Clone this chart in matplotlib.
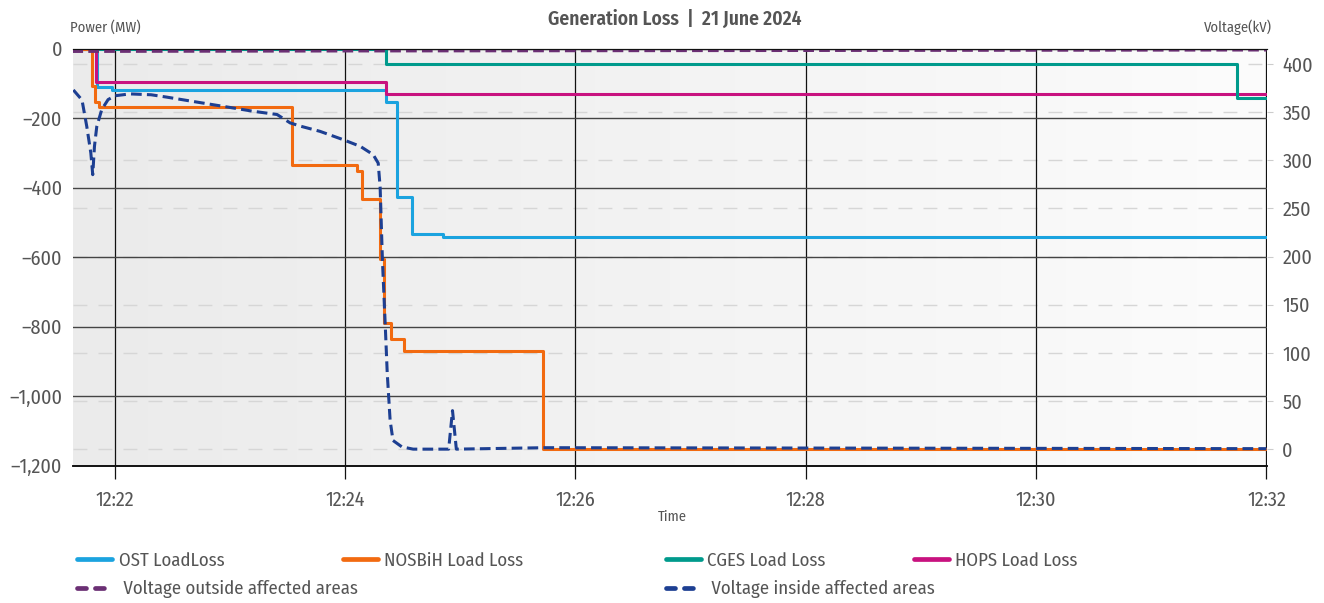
import matplotlib
matplotlib.use('Agg')
import numpy as np
import pandas as pd
import matplotlib.pyplot as plt
import matplotlib.dates as mdates
from matplotlib.lines import Line2D
from matplotlib.colors import LinearSegmentedColormap
from matplotlib.ticker import FuncFormatter
from matplotlib.transforms import blended_transform_factory

plt.rcParams['font.family'] = ['Fira Sans Condensed', 'Roboto Condensed', 'DejaVu Sans']

DAY = '2024-06-21 '
TXT = '#555555'

# Load loss per TSO (MW), step series
ost_t = ['12:21:38', '12:21:50.6', '12:21:58.4', '12:24:21.4', '12:24:27', '12:24:34.8', '12:24:51', '12:32:00']
ost_p = [0, -112, -119, -153, -426, -535, -542, -542]

nos_t = ['12:21:38', '12:21:48.4', '12:21:50', '12:21:52', '12:23:32.3', '12:24:06', '12:24:09',
         '12:24:18.4', '12:24:20.5', '12:24:24.2', '12:24:30.6', '12:25:43.3', '12:32:00']
nos_p = [0, -108, -154, -167, -335, -352, -432, -607, -791, -836, -870, -1152, -1152]

cges_t = ['12:21:38', '12:24:21.4', '12:31:44.5', '12:32:00']
cges_p = [0, -45, -141, -141]

hops_t = ['12:21:38', '12:21:50.4', '12:24:21.2', '12:32:00']
hops_p = [0, -97, -131, -131]

# Voltages (kV)
vout_t = ['12:21:38', '12:24:00', '12:28:00', '12:32:00']
vout_v = [413, 413.5, 414, 414.5]

vin_t = ['12:21:38.5', '12:21:43', '12:21:45.5', '12:21:47.6', '12:21:48.6', '12:21:49.5', '12:21:50.7',
         '12:21:53.3', '12:21:56.6', '12:22:00.3', '12:22:08', '12:22:19', '12:22:27', '12:22:41',
         '12:23:01.7', '12:23:12', '12:23:24.6', '12:23:31.4', '12:23:37', '12:23:47', '12:23:59',
         '12:24:08', '12:24:14.7', '12:24:17.3', '12:24:18.3', '12:24:19.5', '12:24:21', '12:24:22',
         '12:24:23.5', '12:24:25', '12:24:29.6', '12:24:35.5', '12:24:54', '12:24:56', '12:24:58',
         '12:25:44', '12:32:00']
vin_v = [373, 362.6, 335, 307.6, 285, 314.5, 335, 352.7, 363, 367, 368.9, 368, 365.6, 361,
         354.3, 350.9, 347.5, 338.8, 335.3, 330, 321.4, 314.4, 305.8, 297, 272, 196, 127, 79,
         30, 9, 2.4, 0, 0, 40, 0, 1.5, 0.5]

power_ticks = [-1200, -1000, -800, -600, -400, -200, 0]
volt_ticks = [0, 50, 100, 150, 200, 250, 300, 350, 400]


def ts(lst):
    return pd.to_datetime([DAY + s for s in lst], format='mixed')


fig = plt.figure(figsize=(13.24, 6.03), dpi=100)
ax = fig.add_axes([0.0554, 0.228, 0.9016, 0.6915])
ax2 = ax.twinx()

xmin, xmax = ts(['12:21:38.5', '12:32:00.3'])
ax.set_xlim(xmin, xmax)
ax.set_ylim(-1200, 0)
ax2.set_ylim(-17, 416)

# background gradient
grad = np.linspace(0, 1, 256).reshape(1, -1)
cmap = LinearSegmentedColormap.from_list('bg', ['#ebebeb', '#f3f3f3', '#fcfcfc'])
ax.imshow(grad, cmap=cmap, aspect='auto', extent=[0, 1, 0, 1], transform=ax.transAxes, zorder=-2)

# dashed light grid at voltage ticks (drawn on the lower axes, under everything)
tr = blended_transform_factory(ax.transAxes, ax2.transData)
for v in volt_ticks:
    ax.plot([0, 1], [v, v], transform=tr, color='#d6d6d6', lw=1, dashes=(10, 8), zorder=-1)

# solid grid at power ticks and time ticks
ax.set_yticks(power_ticks)
ax.grid(True, axis='y', color='#444444', lw=1)
ax.grid(True, axis='x', color='#111111', lw=0.9)
ax.set_axisbelow(True)

lw = 2.2
ax.plot(ts(ost_t), ost_p, drawstyle='steps-post', color='#1ba3df', lw=lw, label='OST LoadLoss', zorder=3)
ax.plot(ts(hops_t), hops_p, drawstyle='steps-post', color='#c8127f', lw=lw, label='HOPS Load Loss', zorder=3)
ax.plot(ts(cges_t), cges_p, drawstyle='steps-post', color='#009a8c', lw=lw, label='CGES Load Loss', zorder=3)
ax.plot(ts(nos_t), nos_p, drawstyle='steps-post', color='#f26a10', lw=lw, label='NOSBiH Load Loss', zorder=3)

ax2.plot(ts(vout_t), vout_v, color='#6b2f74', lw=lw, dashes=(3.5, 1.7))
ax2.plot(ts(vin_t), vin_v, color='#1d3f92', lw=lw, dashes=(3.5, 1.7))

# axes styling
ax.xaxis.set_major_locator(mdates.MinuteLocator(byminute=range(0, 60, 2)))
ax.xaxis.set_major_formatter(mdates.DateFormatter('%H:%M'))
ax.yaxis.set_major_formatter(FuncFormatter(lambda v, p: f'{v:,.0f}'.replace('-', '\u2013')))
ax.tick_params(axis='x', length=9, width=0.9, color='#111111', pad=9, labelsize=14.5, labelcolor=TXT)
ax.tick_params(axis='y', length=0, pad=8, labelsize=14.5, labelcolor=TXT)
ax2.set_yticks(volt_ticks)
ax2.tick_params(axis='y', length=4, color='#cccccc', pad=7, labelsize=14.5, labelcolor=TXT)

for a in (ax, ax2):
    a.spines['left'].set_visible(False)
    a.spines['right'].set_visible(False)
    a.spines['top'].set_color('#111111')
    a.spines['bottom'].set_color('#111111')
    a.spines['bottom'].set_linewidth(1.2)

fig.text(0.51, 0.968, 'Generation Loss  |  21 June 2024', ha='center', va='center',
         fontsize=14, fontweight='semibold', color=TXT)
fig.text(0.0529, 0.955, 'Power (MW)', ha='left', va='center', fontsize=10.5, color=TXT)
fig.text(0.9607, 0.955, 'Voltage(kV)', ha='right', va='center', fontsize=10.5, color=TXT)
fig.text(0.508, 0.143, 'Time', ha='center', va='center', fontsize=10.5, color=TXT)

# legend, laid out like the source (uneven columns)
def solid(c):
    return Line2D([], [], color=c, lw=3.4, solid_capstyle='round')


def dashed(c):
    return Line2D([], [], color=c, lw=3.4, dashes=(1.9, 1.9), dash_capstyle='round')


entries = [
    (solid('#1ba3df'), 'OST LoadLoss', 0.0585, 0.070),
    (solid('#f26a10'), 'NOSBiH Load Loss', 0.2590, 0.070),
    (solid('#009a8c'), 'CGES Load Loss', 0.5030, 0.070),
    (solid('#c8127f'), 'HOPS Load Loss', 0.6903, 0.070),
    (dashed('#6b2f74'), ' Voltage outside affected areas', 0.0585, 0.023),
    (dashed('#1d3f92'), ' Voltage inside affected areas', 0.5030, 0.023),
]
for h, lab, x, y in entries:
    fig.legend(handles=[h], labels=[lab], loc='center left', bbox_to_anchor=(x, y),
               frameon=False, borderpad=0, borderaxespad=0, handlelength=1.85,
               handletextpad=0.35, fontsize=13.5, labelcolor=TXT)

fig.savefig('out.png', dpi=100)
